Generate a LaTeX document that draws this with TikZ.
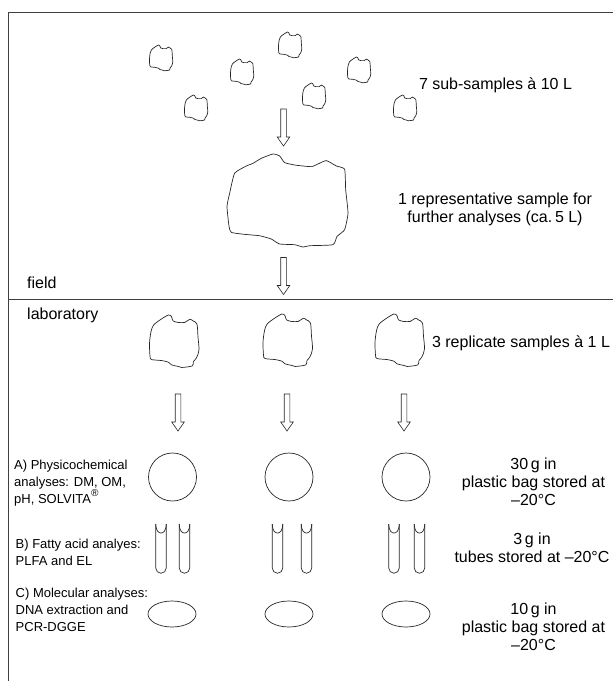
\documentclass[tikz,border=0pt]{standalone}
\usepackage{fontspec}
\setmainfont{Liberation Sans}
\usetikzlibrary{shapes.geometric,shapes.arrows}
\begin{document}
\begin{tikzpicture}[x=1pt,y=-1pt,
  frameline/.style={draw=black!75, line width=0.9pt},
  blobline/.style={draw=black!85, line width=0.7pt},
  hollowarrow/.style={single arrow, draw=black!85, line width=0.6pt,
    shape border rotate=270, minimum height=37pt, minimum width=12pt,
    inner sep=2.5pt, single arrow head extend=3.5pt, single arrow tip angle=70},
  roundbag/.style={circle, draw=black!85, line width=0.7pt, minimum size=48pt, inner sep=0pt},
  flatbag/.style={ellipse, draw=black!85, line width=0.7pt, minimum width=48pt, minimum height=26pt, inner sep=0pt},
  bigtext/.style={font=\fontsize{16}{18}\selectfont, inner sep=0pt, align=center},
  smalltext/.style={font=\fontsize{13}{17}\selectfont, inner sep=0pt, align=left, anchor=west},
  blob/.pic={\draw[blobline] plot[smooth cycle, tension=0.5] coordinates {
    (-0.40,-0.31) (-0.27,-0.41) (-0.11,-0.5) (-0.05,-0.47) (-0.02,-0.39)
    (0.08,-0.36) (0.21,-0.36) (0.31,-0.42) (0.37,-0.39) (0.45,-0.33)
    (0.47,-0.09) (0.49,0.16) (0.44,0.31) (0.38,0.38) (0.36,0.46)
    (0.15,0.49) (0.08,0.47) (-0.05,0.44) (-0.11,0.39) (-0.24,0.36)
    (-0.44,0.34) (-0.47,0.28) (-0.48,0.03) (-0.45,-0.19)};},
  bigblob/.pic={\draw[blobline] plot[smooth cycle, tension=0.3] coordinates {
    (-0.437,-0.293) (-0.34,-0.371) (-0.285,-0.4) (-0.216,-0.454) (-0.12,-0.5)
    (-0.065,-0.479) (-0.023,-0.407) (0.073,-0.379) (0.197,-0.364) (0.252,-0.393)
    (0.321,-0.429) (0.404,-0.371) (0.472,-0.336) (0.481,-0.114) (0.5,0.136)
    (0.472,0.314) (0.409,0.386) (0.376,0.475) (0.183,0.486) (0.128,0.5)
    (0.059,0.475) (-0.065,0.468) (-0.134,0.414) (-0.23,0.379) (-0.354,0.364)
    (-0.464,0.343) (-0.483,0.279) (-0.5,0.064) (-0.478,-0.079)};},
  tube/.pic={\draw[blobline] (-5.25,0) -- (-5.25,44)
      .. controls (-5.25,46.9) and (-2.9,49.25) .. (0,49.25)
      .. controls (2.9,49.25) and (5.25,46.9) .. (5.25,44) -- (5.25,0);
    \draw[blobline] (-5.25,0) .. controls (-5,7) and (-2.5,9) .. (0,9)
      .. controls (2.5,9) and (5,7) .. (5.25,0);}
]
\useasboundingbox (0,0) rectangle (613,681);
% frame
\coordinate (tl) at (8,12);
\coordinate (tr) at (613,12);
\coordinate (bl) at (8,681);
\coordinate (sl) at (8,299);
\coordinate (sr) at (613,299);
\draw[frameline] (tr) -- (tl) -- (bl);
\draw[frameline] (sl) -- (sr);
\node[bigtext, anchor=west] (field) at (27,283) {field};
\node[bigtext, anchor=west] (lab) at (27,315) {laboratory};
% sub-samples
\coordinate (sub1) at (161,58);
\coordinate (sub2) at (196,108);
\coordinate (sub3) at (242,72);
\coordinate (sub4) at (290,45);
\coordinate (sub5) at (314,96);
\coordinate (sub6) at (359,70);
\coordinate (sub7) at (405,108);
\foreach \s in {sub1,sub2,sub3,sub4,sub5,sub6,sub7}
  \pic[xscale=24,yscale=26] at (\s) {blob};
\node[bigtext] (subtxt) at (495.5,85) {7 sub-samples à 10 L};
\node[hollowarrow] (arr1) at (283.5,125.5) {};
% representative sample
\coordinate (big) at (287.5,200.5);
\pic[xscale=121,yscale=93] at (big) {bigblob};
\node[bigtext] (bigtxt) at (495,209) {1 representative sample for\\further analyses (ca.\,5 L)};
\node[hollowarrow] (arr2) at (283.5,274) {};
% replicates
\coordinate (rep1) at (174,341.5);
\coordinate (rep2) at (287.5,340.5);
\coordinate (rep3) at (399.5,340.5);
\foreach \s in {rep1,rep2,rep3}
  \pic[xscale=51,yscale=53] at (\s) {blob};
\node[bigtext] (reptxt) at (521,343) {3 replicate samples à 1 L};
\node[hollowarrow] (arr3) at (178,410.5) {};
\node[hollowarrow] (arr4) at (287,410.5) {};
\node[hollowarrow] (arr5) at (404,410.5) {};
% A) circles
\node[roundbag] (circ1) at (172.5,477) {};
\node[roundbag] (circ2) at (289,477) {};
\node[roundbag] (circ3) at (406,477) {};
\node[smalltext] (atxt) at (14,483) {A) Physicochemical\\analyses: DM, OM,\\pH, SOLVITA\raisebox{0.5em}{\fontsize{10}{10}\selectfont ®}};
\node[bigtext] (ares) at (533.5,481.5) {30\,g in\\plastic bag stored at\\–20°C};
% B) tubes
\foreach \cx in {161,184.5,277.5,306.5,394,419.5}
  \pic at (\cx,524) {tube};
\node[smalltext] (btxt) at (15.5,552) {B) Fatty acid analyes:\\PLFA and EL};
\node[bigtext] (bres) at (532,547.5) {3\,g in\\tubes stored at –20°C};
% C) ellipses
\node[flatbag] (ell1) at (172,614) {};
\node[flatbag] (ell2) at (289,614) {};
\node[flatbag] (ell3) at (406,614) {};
\node[smalltext] (ctxt) at (15.5,609.5) {C) Molecular analyses:\\DNA extraction and\\PCR-DGGE};
\node[bigtext] (cres) at (533.5,627) {10\,g in\\plastic bag stored at\\–20°C};
\end{tikzpicture}
\end{document}
